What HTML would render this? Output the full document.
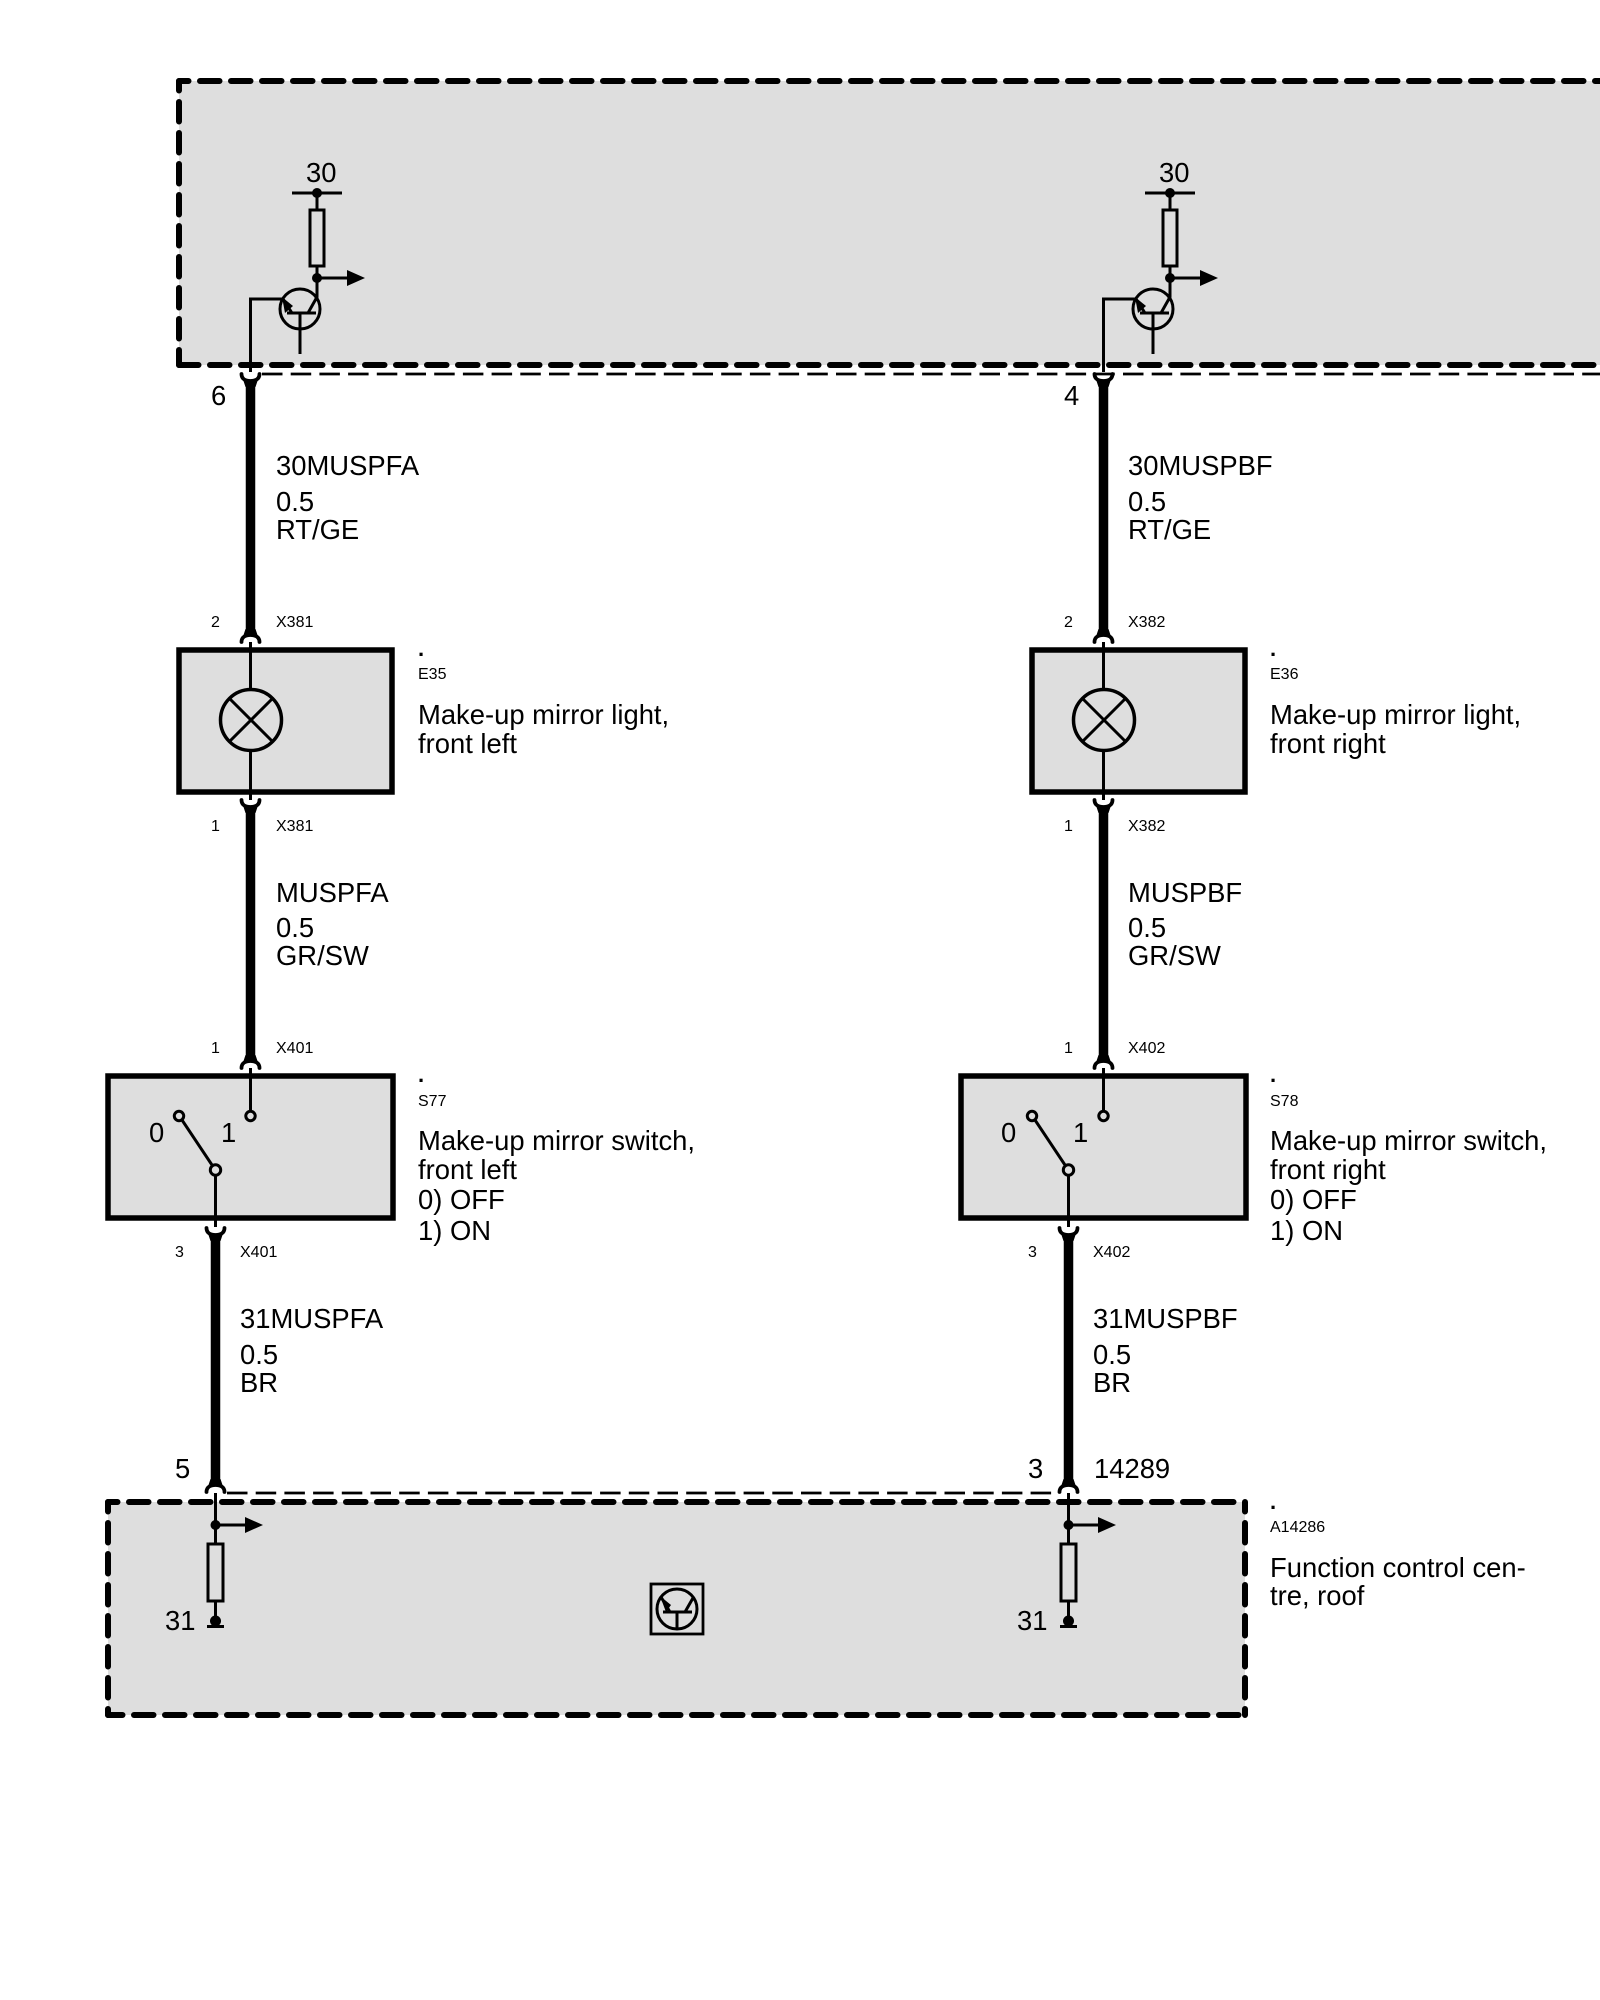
<!DOCTYPE html>
<html><head><meta charset="utf-8"><style>
html,body{margin:0;padding:0;background:#fff}
svg{display:block}
text{font-family:"Liberation Sans",sans-serif;fill:#000;font-size:27.4px}
.s{font-size:16px}
.p{font-size:22px;font-weight:bold}
.t{stroke:#000;stroke-width:3;fill:none}
.w{stroke:#000;stroke-width:9.5;fill:none}
.h{stroke:#000;stroke-width:3.800;fill:none;stroke-linecap:round}
.b{stroke:#000;stroke-width:6;fill:none;stroke-linecap:round;stroke-dasharray:19.5 11.5}
.d{stroke:#000;stroke-width:2.8;fill:none;stroke-dasharray:20.5 8.2}
</style></head><body>
<svg width="1600" height="2000" viewBox="0 0 1600 2000" xmlns="http://www.w3.org/2000/svg">
<defs>
<g id="u">
<path class="h" d="M-9 -8C-9 -3 -5 -1 0 -1C5 -1 9 -3 9 -8"/>
<path d="M-7 -1L7 -1L5 5L-5 5Z"/>
</g>
<g id="n">
<path class="h" d="M-9 8C-9 3 -5 1 0 1C5 1 9 3 9 8"/>
<path d="M-7 1L7 1L5 -5L-5 -5Z"/>
</g>
<g id="tr">
<circle cx="300" cy="309" r="20" class="t"/>
<path class="t" d="M287 313H316M300 313V354M317 278V297L308 313M250.500 372V299H283L292 313"/>
<path d="M282 297L293 306L285 313Z"/>
<path class="t" d="M317 193V210M292 193H342"/>
<circle cx="317" cy="193" r="5"/>
<rect x="310" y="210" width="14" height="56" class="t"/>
<path class="t" d="M317 266V280M317 278H348"/>
<circle cx="317" cy="278" r="5"/>
<path d="M347 270L365 278L347 286Z"/>
</g>
<g id="gnd">
<path class="t" d="M215.500 1493V1544M215.500 1525H246M215.500 1601V1621M207 1626.500H224"/>
<circle cx="215.500" cy="1525" r="5"/>
<circle cx="215.500" cy="1621" r="5.500"/>
<path d="M245 1517L263 1525L245 1533Z"/>
<rect x="208" y="1544" width="15" height="57" class="t"/>
</g>
<g id="wireA">
<path class="w" d="M250.500 382V634"/>
<use href="#u" x="250.500" y="382"/>
<use href="#n" x="250.500" y="634"/>
<rect x="179" y="650" width="213" height="142" fill="#dedede" stroke="#000" stroke-width="5.500"/>
<path class="t" d="M250.500 642V689M250.500 751V800"/>
<circle cx="251" cy="720" r="30.500" class="t" style="stroke-width:3.500"/>
<path class="t" d="M229.500 698.500L272.500 741.500M272.500 698.500L229.500 741.500"/>
<path class="w" d="M250.500 808V1060"/>
<use href="#u" x="250.500" y="808"/>
<use href="#n" x="250.500" y="1060"/>
<rect x="108" y="1076" width="285" height="142" fill="#dedede" stroke="#000" stroke-width="5.500"/>
<path class="t" d="M250.500 1068V1111M215.500 1175V1227M182 1120L212 1165"/>
<circle cx="250.500" cy="1116" r="4.700" class="t" style="fill:#dedede"/>
<circle cx="179" cy="1116" r="4.700" class="t" style="fill:#dedede"/>
<circle cx="215.500" cy="1170" r="5.200" class="t" style="fill:#dedede"/>
<path class="w" d="M215.500 1236V1484"/>
<use href="#u" x="215.500" y="1236"/>
<use href="#n" x="215.500" y="1484"/>
</g>
</defs>

<!-- top box -->
<rect x="179" y="81" width="1421" height="284" fill="#dedede"/>
<path class="b" d="M179 81H1600" stroke-dashoffset="10"/>
<path class="b" d="M179 81V365" stroke-dashoffset="10"/>
<path class="b" d="M179 365H1600" stroke-dashoffset="0"/>
<path class="d" d="M262 374H1600"/>

<!-- bottom box -->
<rect x="108" y="1502" width="1137" height="213" fill="#dedede"/>
<path class="b" d="M108 1502H1245" stroke-dashoffset="10"/>
<path class="b" d="M108 1502V1715" stroke-dashoffset="10"/>
<path class="b" d="M108 1715H1245" stroke-dashoffset="5"/>
<path class="b" d="M1245 1502V1715" stroke-dashoffset="10"/>
<path class="d" d="M227 1493H1058"/>

<use href="#wireA"/>
<use href="#wireA" transform="translate(853 0)"/>
<use href="#tr"/>
<use href="#tr" transform="translate(853 0)"/>
<use href="#gnd"/>
<use href="#gnd" transform="translate(853 0)"/>

<!-- centre symbol -->
<rect x="651" y="1584" width="52" height="50" fill="none" stroke="#000" stroke-width="2.800"/>
<circle cx="677" cy="1609" r="20" fill="none" stroke="#000" stroke-width="3"/>
<path class="t" d="M663 1612H692M677 1612V1629M661 1597L670 1612M693 1598L685 1612"/>
<path d="M660 1596L671 1605L666 1612Z"/>

<!-- left labels -->
<text x="306" y="182">30</text>
<text x="211" y="405">6</text>
<text x="276" y="475">30MUSPFA</text>
<text x="276" y="511">0.5</text>
<text x="276" y="539">RT/GE</text>
<text class="s" x="211" y="627">2</text>
<text class="s" x="276" y="627">X381</text>
<text class="p" x="418" y="656">.</text>
<text class="s" x="418" y="679">E35</text>
<text x="418" y="724">Make-up mirror light,</text>
<text x="418" y="753">front left</text>
<text class="s" x="211" y="831">1</text>
<text class="s" x="276" y="831">X381</text>
<text x="276" y="902">MUSPFA</text>
<text x="276" y="937">0.5</text>
<text x="276" y="965">GR/SW</text>
<text class="s" x="211" y="1053">1</text>
<text class="s" x="276" y="1053">X401</text>
<text x="149" y="1142">0</text>
<text x="221" y="1142">1</text>
<text class="p" x="418" y="1082">.</text>
<text class="s" x="418" y="1106">S77</text>
<text x="418" y="1150">Make-up mirror switch,</text>
<text x="418" y="1179">front left</text>
<text x="418" y="1209">0) OFF</text>
<text x="418" y="1240">1) ON</text>
<text class="s" x="175" y="1257">3</text>
<text class="s" x="240" y="1257">X401</text>
<text x="240" y="1328">31MUSPFA</text>
<text x="240" y="1364">0.5</text>
<text x="240" y="1392">BR</text>
<text x="175" y="1478">5</text>
<text x="165" y="1630">31</text>

<!-- right labels -->
<text x="1159" y="182">30</text>
<text x="1064" y="405">4</text>
<text x="1128" y="475">30MUSPBF</text>
<text x="1128" y="511">0.5</text>
<text x="1128" y="539">RT/GE</text>
<text class="s" x="1064" y="627">2</text>
<text class="s" x="1128" y="627">X382</text>
<text class="p" x="1270" y="656">.</text>
<text class="s" x="1270" y="679">E36</text>
<text x="1270" y="724">Make-up mirror light,</text>
<text x="1270" y="753">front right</text>
<text class="s" x="1064" y="831">1</text>
<text class="s" x="1128" y="831">X382</text>
<text x="1128" y="902">MUSPBF</text>
<text x="1128" y="937">0.5</text>
<text x="1128" y="965">GR/SW</text>
<text class="s" x="1064" y="1053">1</text>
<text class="s" x="1128" y="1053">X402</text>
<text x="1001" y="1142">0</text>
<text x="1073" y="1142">1</text>
<text class="p" x="1270" y="1082">.</text>
<text class="s" x="1270" y="1106">S78</text>
<text x="1270" y="1150">Make-up mirror switch,</text>
<text x="1270" y="1179">front right</text>
<text x="1270" y="1209">0) OFF</text>
<text x="1270" y="1240">1) ON</text>
<text class="s" x="1028" y="1257">3</text>
<text class="s" x="1093" y="1257">X402</text>
<text x="1093" y="1328">31MUSPBF</text>
<text x="1093" y="1364">0.5</text>
<text x="1093" y="1392">BR</text>
<text x="1028" y="1478">3</text>
<text x="1094" y="1478">14289</text>
<text x="1017" y="1630">31</text>
<text class="p" x="1270" y="1509">.</text>
<text class="s" x="1270" y="1532">A14286</text>
<text x="1270" y="1577">Function control cen-</text>
<text x="1270" y="1605">tre, roof</text>
</svg>
</body></html>
